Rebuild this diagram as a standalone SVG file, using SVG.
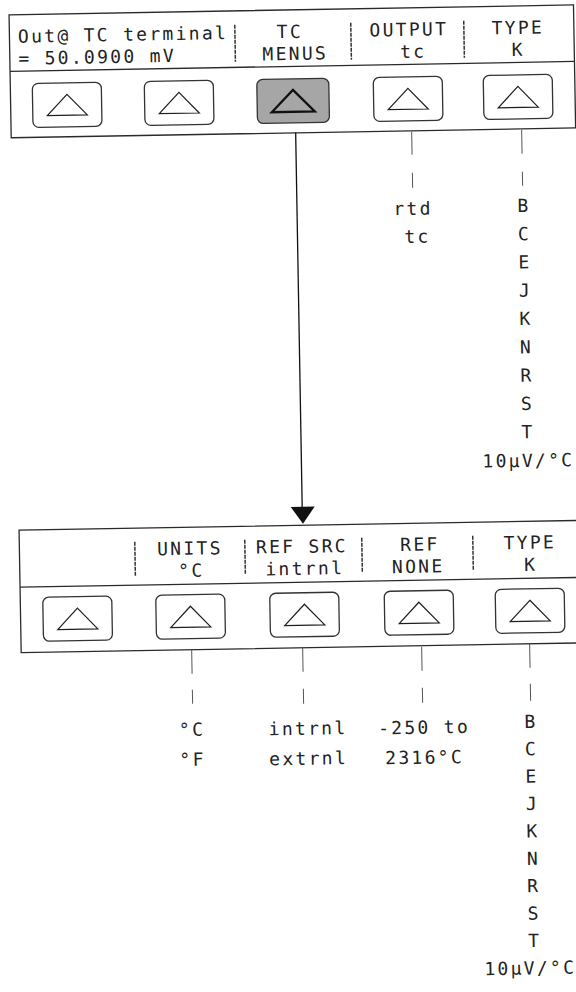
<svg xmlns="http://www.w3.org/2000/svg" width="576" height="992" viewBox="0 0 576 992">
<defs>
<style>
.panel{fill:#fff;stroke:#2a2a2a;stroke-width:1.3}
.div{stroke:#2a2a2a;stroke-width:1.3}
.btn{fill:#fff;stroke:#333;stroke-width:1.3}
.btn-on{fill:#a6a6a6;stroke:#333;stroke-width:1.3}
.tri{fill:none;stroke:#1e1e1e;stroke-width:1.2}
.tri-on{fill:none;stroke:#111;stroke-width:2.3}
.sep{stroke:#333;stroke-width:1.5;stroke-dasharray:4 1}
.lead{stroke:#555;stroke-width:1}
.main{stroke:#111;stroke-width:1.3}
.lcd{font-family:"DejaVu Sans Mono","Liberation Mono",monospace;font-size:18px;letter-spacing:2.3px;fill:#222}
.m{text-anchor:middle}
</style>
<g id="button">
<rect class="btn" x="-34.5" y="-22" width="69" height="44" rx="6"/>
<polygon class="tri" points="0,-10.5 20,10.5 -20,10.5"/>
</g>
</defs>
<g transform="rotate(-1 288 496)">
<g id="top-panel">
<rect class="panel" x="17.5" y="10" width="564.5" height="123"/>
<line class="div" x1="17.5" y1="66.5" x2="582" y2="66.5"/>
<line class="sep" x1="243" y1="24" x2="243" y2="61"/>
<line class="sep" x1="359" y1="24" x2="359" y2="61"/>
<line class="sep" x1="472" y1="24" x2="472" y2="61"/>
<text class="lcd" x="26" y="38">Out@ TC terminal</text>
<text class="lcd" x="26" y="60">= 50.0900 mV</text>
<text class="lcd m" x="298" y="38">TC</text>
<text class="lcd m" x="303" y="60">MENUS</text>
<text class="lcd m" x="417" y="38">OUTPUT</text>
<text class="lcd m" x="421" y="60">tc</text>
<text class="lcd m" x="526" y="38">TYPE</text>
<text class="lcd m" x="526" y="60">K</text>
<use href="#button" x="74" y="101"/>
<use href="#button" x="186" y="101"/>
<g id="tc-menus-key">
<rect class="btn-on" x="264" y="79" width="72" height="44" rx="6"/>
<polygon class="tri-on" points="300,90 321.5,112 278.5,112"/>
</g>
<use href="#button" x="415" y="101"/>
<use href="#button" x="525" y="101"/>
</g>
<g id="bottom-panel">
<rect class="panel" x="18.5" y="525.5" width="563.5" height="122.5"/>
<line class="div" x1="18.5" y1="582.5" x2="582" y2="582.5"/>
<line class="sep" x1="134" y1="539" x2="134" y2="574"/>
<line class="sep" x1="244" y1="539" x2="244" y2="574"/>
<line class="sep" x1="361" y1="539" x2="361" y2="574"/>
<line class="sep" x1="472" y1="539" x2="472" y2="574"/>
<text class="lcd m" x="189" y="553">UNITS</text>
<text class="lcd m" x="190" y="575">°C</text>
<text class="lcd m" x="301" y="553">REF SRC</text>
<text class="lcd m" x="303.5" y="575">intrnl</text>
<text class="lcd m" x="419" y="553">REF</text>
<text class="lcd m" x="417" y="575">NONE</text>
<text class="lcd m" x="529" y="553">TYPE</text>
<text class="lcd m" x="529.5" y="575">K</text>
<use href="#button" x="75.5" y="615"/>
<use href="#button" x="188.5" y="615"/>
<use href="#button" x="302.5" y="615"/>
<use href="#button" x="417" y="615"/>
<use href="#button" x="528" y="615"/>
</g>
<g id="connectors">
<line class="main" x1="302" y1="133" x2="302" y2="509"/>
<polygon points="290.5,507 314.5,507 302.5,524" fill="#111"/>
<line class="lead" x1="418" y1="134" x2="418" y2="157"/>
<line class="lead" x1="418" y1="175" x2="418" y2="190"/>
<line class="lead" x1="528" y1="134" x2="528" y2="158"/>
<line class="lead" x1="528" y1="176" x2="528" y2="190"/>
<line class="lead" x1="189" y1="648" x2="189" y2="672"/>
<line class="lead" x1="189" y1="688" x2="189" y2="702"/>
<line class="lead" x1="300" y1="648" x2="300" y2="672"/>
<line class="lead" x1="300" y1="689" x2="300" y2="704"/>
<line class="lead" x1="419" y1="649" x2="419" y2="673"/>
<line class="lead" x1="419" y1="690" x2="419" y2="705"/>
<line class="lead" x1="527" y1="648" x2="527" y2="672"/>
<line class="lead" x1="527" y1="688" x2="527" y2="705"/>
</g>
<g id="output-options">
<text class="lcd m" x="418" y="217">rtd</text>
<text class="lcd m" x="422" y="245">tc</text>
</g>
<g id="type-options-top">
<text class="lcd m" x="529" y="216">B</text>
<text class="lcd m" x="529" y="244.3">C</text>
<text class="lcd m" x="529" y="272.6">E</text>
<text class="lcd m" x="529" y="300.9">J</text>
<text class="lcd m" x="529" y="329.2">K</text>
<text class="lcd m" x="529" y="357.5">N</text>
<text class="lcd m" x="529" y="385.8">R</text>
<text class="lcd m" x="529" y="414.1">S</text>
<text class="lcd m" x="529" y="442.4">T</text>
<text class="lcd m" x="529" y="471">10µV/°C</text>
</g>
<g id="units-options">
<text class="lcd m" x="188" y="734">°C</text>
<text class="lcd m" x="188" y="764">°F</text>
</g>
<g id="refsrc-options">
<text class="lcd m" x="304" y="735">intrnl</text>
<text class="lcd m" x="304" y="765">extrnl</text>
</g>
<g id="ref-options">
<text class="lcd m" x="420" y="736">-250 to</text>
<text class="lcd m" x="420" y="766">2316°C</text>
</g>
<g id="type-options-bottom">
<text class="lcd m" x="527" y="732">B</text>
<text class="lcd m" x="527" y="759.4">C</text>
<text class="lcd m" x="527" y="786.8">E</text>
<text class="lcd m" x="527" y="814.2">J</text>
<text class="lcd m" x="527" y="841.6">K</text>
<text class="lcd m" x="527" y="869">N</text>
<text class="lcd m" x="527" y="896.4">R</text>
<text class="lcd m" x="527" y="923.8">S</text>
<text class="lcd m" x="527" y="951.2">T</text>
<text class="lcd m" x="522" y="978.6">10µV/°C</text>
</g>
</g>
</svg>
